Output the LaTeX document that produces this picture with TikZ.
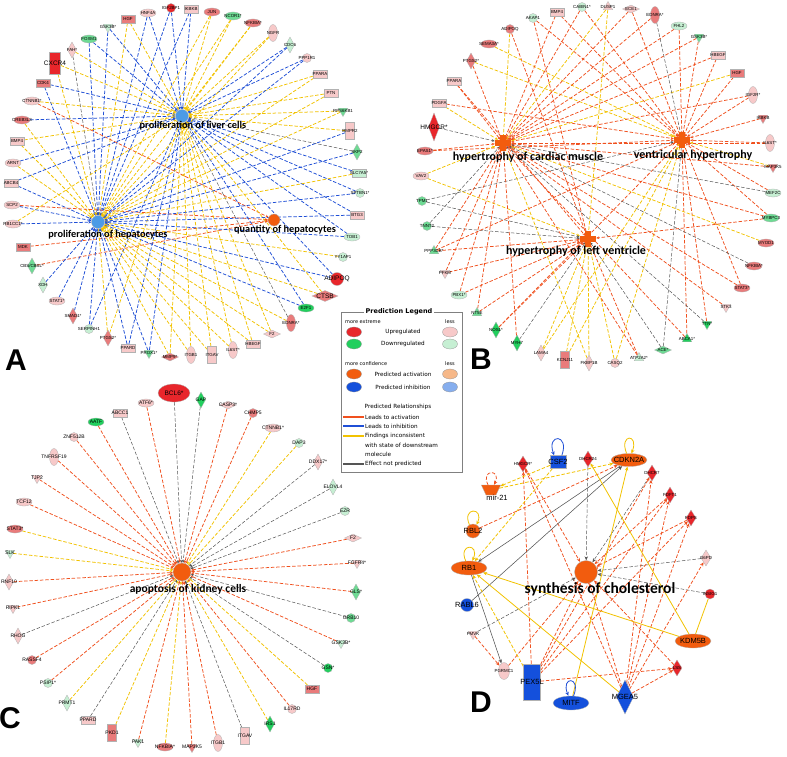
\documentclass[tikz,border=0pt]{standalone}
\usepackage{fontspec}
\newfontfamily\genefont{Liberation Sans}
\newfontfamily\titlefont{Carlito}
\newfontfamily\legfont{DejaVu Sans}
\usetikzlibrary{shapes.geometric,arrows.meta}
\pgfdeclarelayer{bg}
\pgfsetlayers{bg,main}

\definecolor{upS}{HTML}{E8262B}
\definecolor{upM}{HTML}{E97B7B}
\definecolor{upL}{HTML}{F7C9C9}
\definecolor{dnS}{HTML}{22CF5E}
\definecolor{dnM}{HTML}{6EDB94}
\definecolor{dnL}{HTML}{C6EFD3}
\definecolor{actS}{HTML}{F25C0E}
\definecolor{actL}{HTML}{F6B889}
\definecolor{inhS}{HTML}{1450DC}
\definecolor{inhM}{HTML}{4C9BE6}
\definecolor{inhL}{HTML}{86AEEE}
\definecolor{actE}{HTML}{F0501E}
\definecolor{inhE}{HTML}{1F4FD6}
\definecolor{incE}{HTML}{F2C200}
\definecolor{npE}{HTML}{555555}

\tikzset{
  gene/.style={draw=black!30, line width=0.3pt, inner sep=0pt},
  ell/.style={gene, ellipse, minimum width=16pt, minimum height=8pt},
  ellv/.style={gene, ellipse, minimum width=9pt, minimum height=17pt},
  circ/.style={gene, circle, minimum size=9pt},
  rct/.style={gene, rectangle, minimum width=14pt, minimum height=8pt},
  rctv/.style={gene, rectangle, minimum width=9pt, minimum height=17pt},
  dia/.style={gene, diamond, minimum width=9pt, minimum height=16pt},
  diah/.style={gene, diamond, minimum width=17pt, minimum height=8pt},
  triu/.style={gene, regular polygon, regular polygon sides=3, minimum size=11pt},
  trid/.style={triu, shape border rotate=180},
  lbl/.style={font=\genefont\fontsize{4.4}{5}\selectfont, inner sep=0pt},
  lblc/.style={font=\genefont\fontsize{5}{6}\selectfont, inner sep=0pt},
  lblbig/.style={font=\genefont\fontsize{6.5}{7}\selectfont, inner sep=0pt},
  dlbl/.style={font=\genefont\fontsize{7.5}{8}\selectfont, inner sep=0pt},
  bigA/.style={font=\titlefont\bfseries\fontsize{10.3}{12}\selectfont, inner sep=0pt},
  bigB/.style={font=\titlefont\bfseries\fontsize{12}{14}\selectfont, inner sep=0pt},
  bigC/.style={font=\titlefont\bfseries\fontsize{11.5}{13}\selectfont, inner sep=0pt},
  bigD/.style={font=\titlefont\bfseries\fontsize{15.5}{17}\selectfont, inner sep=0pt},
  panel/.style={font=\genefont\bfseries\fontsize{30}{30}\selectfont, inner sep=0pt},
  link/.style={line width=0.75pt, dash pattern=on 3.5pt off 1.8pt, -{Stealth[length=3pt,width=2.6pt]}},
  act/.style={link, actE},
  inh/.style={link, inhE},
  inc/.style={link, incE},
  np/.style={link, npE, line width=0.5pt},
  dact/.style={act, line width=0.75pt, -{Stealth[length=4pt,width=3.4pt]}},
  dnp/.style={np, -{Stealth[length=4pt,width=3.4pt]}},
  dincd/.style={inc, line width=0.8pt, -{Stealth[length=4pt,width=3.4pt]}},
  dincs/.style={dincd, solid},
  dnps/.style={dnp, solid, line width=0.55pt},
  legsw/.style={ellipse, draw=black!40, line width=0.3pt, minimum width=15pt, minimum height=10pt, inner sep=0pt},
  legtxt/.style={font=\legfont\fontsize{5.7}{6.5}\selectfont, inner sep=0pt},
  legsmall/.style={font=\legfont\fontsize{5}{6}\selectfont, inner sep=0pt},
}

\begin{document}
\begin{tikzpicture}[x=1pt, y=-1pt]
  \begin{pgfonlayer}{bg}
    \fill[white] (0,0) rectangle (787,757);
  \end{pgfonlayer}
  \useasboundingbox (0,0) rectangle (787,757);

  % ---------------- Panel A ----------------
  \node[gene, circle, minimum size=13pt, fill=inhM] (aliv) at (182,116) {};
  \node[gene, circle, minimum size=13pt, fill=inhM] (ahep) at (98,222) {};
  \node[gene, circle, minimum size=12pt, fill=actS] (aqty) at (274,220) {};

  \foreach \nm/\xx/\yy/\shp/\col/\txt/\lnk in {
    IGF/171/8/circ/upS/IGF2BP1/{liv/inh,hep/inh},
    IKB/191/9/rct/upL/IKBKB/{liv/inh,hep/inh},
    HNF/148/13/ell/upL/HNF4A/{liv/inh,hep/inh},
    HGF/128/19/rct/upM/HGF/{liv/inc,hep/inc},
    GSK/108/27/trid/dnL/GSK3B*/{liv/inh,hep/inh},
    FOX/89/39/ell/dnM/FOXM1/{liv/inh,hep/inh},
    FAH/72/50/dia/upL/FAH*/{liv/inc,hep/np},
    CDK/43/83/rct/upM/CDK4/{liv/inh,hep/inh},
    CTN/32/101/ell/upL/CTNNB1*/{liv/inc,qty/act},
    CRE/22/120/ell/upM/CREB3L3/{liv/inh,hep/inc},
    BMP/17/141/rct/upL/BMP4/{liv/inc,hep/inc},
    ARN/13/163/ell/upL/ARNT/{liv/inh,hep/inc},
    ABC/11/183/rct/upL/ABCB4/{liv/inh,hep/inh},
    SCP/12/205/ell/upL/SCP2/{qty/act,hep/inh},
    RBC/13/224/ell/upL/RB1CC1*/{hep/inh,liv/inc},
    MDK/23/247/rct/upM/MDK/{qty/act},
    CBS/32/266/dia/dnM/{CBS/CBSL*}/{qty/act},
    XDH/43/285/dia/dnL/XDH/{hep/inh},
    ST1/57/301/ell/upL/STAT1*/{hep/inh},
    SMA/73/316/dia/upM/SMAD1*/{hep/inh},
    SER/89/329/circ/dnL/SERPINH1/{hep/inh,liv/inh},
    PTG/108/338/dia/upM/PTGS2*/{hep/inc,liv/inc},
    PPD/128/348/rct/upL/PPARD/{hep/inh,liv/inh},
    PRO/149/353/trid/dnM/PROX1*/{hep/inh,liv/inh},
    MMP/170/357/diah/upM/MMP9*/{hep/inc,liv/inc},
    ITB/191/355/ellv/upL/ITGB1/{hep/inc,liv/inc},
    ITV/212/355/rctv/upL/ITGAV/{hep/inc,liv/inc},
    IL6/233/350/ellv/upL/IL6ST*/{hep/inc,liv/inc},
    HBE/253/344/rct/upL/HBEGF/{hep/inc,liv/inc},
    F2/272/334/diah/upL/F2/{hep/inc,liv/inc},
    EDN/291/323/ellv/upM/EDNRA*/{liv/np,hep/inc},
    E2F/306/308/ell/dnS/E2F1/{liv/inh,hep/inh},
    YYA/343/257/circ/dnL/YY1AP1/{hep/inc},
    TOB/352/237/ell/dnL/TOB1/{liv/inh,hep/inh},
    BTG/357/215/rct/upL/BTG3/{liv/inh,hep/inh},
    SPT/360/193/circ/dnL/SPTBN1*/{liv/inh,hep/inh},
    SLC/359/173/rct/dnL/SLC7A5*/{liv/inh,hep/inc},
    SKP/357/152/dia/dnM/SKP2/{liv/np,hep/inh},
    BPR/350/131/rctv/upL/BMPR2/{hep/inh,liv/inc},
    RPS/343/111/trid/dnM/RPS6KB1/{liv/inc,hep/inc},
    PTN/331/93/rct/upL/PTN/{liv/inc,hep/inc},
    PPA/320/74/rct/upL/PPARA/{liv/inc,hep/inc},
    PPP/307/58/circ/upL/PPP1R1/{liv/inh,hep/inh},
    CDC/290/45/dia/dnL/CDC6/{liv/inh,hep/inh},
    NGF/273/33/ellv/upL/NGFR/{liv/inc,hep/inc},
    NFK/253/23/ell/upM/NFKBIA*/{liv/inc,hep/inc},
    NCO/233/16/ell/dnM/NCOR1*/{liv/inc,hep/inc},
    JUN/212/12/ell/upM/JUN/{liv/inc,hep/inc}} {
    \node[\shp, fill=\col, label={[lbl]center:\txt}] (a\nm) at (\xx,\yy) {};
    \begin{pgfonlayer}{bg}
      \foreach \tg/\et in \lnk {\draw[\et] (a\nm) -- (a\tg);}
    \end{pgfonlayer}
  }
  \node[gene, rectangle, minimum width=11pt, minimum height=22pt, fill=upS, label={[lblbig]center:CXCR4}] (aCXC) at (55,63) {};
  \node[gene, circle, minimum size=13pt, fill=upS, label={[lblbig]center:ADIPOQ}] (aADI) at (337,279) {};
  \node[gene, diamond, minimum width=26pt, minimum height=11pt, fill=upM, label={[lblbig]center:CTSB}] (aCTS) at (325,296) {};
  \begin{pgfonlayer}{bg}
    \draw[inc] (aCXC) -- (aliv);
    \draw[inc] (aCXC) -- (ahep);
    \draw[inh] (aADI) -- (aliv);
    \draw[inh] (aADI) -- (ahep);
    \draw[inc] (aCTS) -- (ahep);
    \draw[inc] (aCTS) -- (aliv);
  \end{pgfonlayer}
  \node[bigA] (aliv-t) at (193,126) {proliferation of liver cells};
  \node[bigA] (ahep-t) at (108,235) {proliferation of hepatocytes};
  \node[bigA] (aqty-t) at (285,230) {quantity of hepatocytes};
  \node[panel] (pA) at (16,360) {A};

  % ---------------- Panel B ----------------
  \foreach \nm/\xx/\yy in {car/503/143, ven/682/140, lef/588/239} {
    \node[fill=actS, minimum width=16pt, minimum height=6pt, inner sep=0pt] (b\nm) at (\xx,\yy) {};
    \node[fill=actS, minimum width=6pt, minimum height=16pt, inner sep=0pt] (b\nm-v) at (\xx,\yy) {};
  }

  \foreach \nm/\xx/\yy/\shp/\col/\txt/\lnk in {
    AKA/533/18/circ/dnL/AKAP1/{ven/act,lef/act},
    ADI/510/29/circ/upM/ADIPOQ/{car/inc,lef/act},
    SEM/489/44/ell/upM/SEMA3A*/{ven/inc},
    PTG/471/61/dia/upM/PTGS2*/{ven/inc,car/act},
    PPA/454/81/rct/upL/PPARA/{car/act,lef/act},
    PDG/439/103/rct/upL/PDGFA/{car/inc,ven/act},
    EPA/425/151/ell/upM/EPAS1*/{car/act,ven/act},
    VAV/421/176/ell/upL/VAV2/{car/inc,lef/inc},
    TPM/422/201/circ/dnM/TPM1/{ven/np,lef/np},
    TNN/427/226/circ/dnM/TNNT2/{car/np,lef/np},
    PP3/434/251/triu/dnM/PPP3CB*/{car/act,lef/act,ven/act},
    PFK/445/273/trid/upL/PFKM/{car/act,lef/act},
    PBX/459/295/ell/dnL/PBX1*/{car/act,lef/act},
    NT5/477/313/triu/dnM/NT5E/{car/act,lef/act},
    NOS/496/330/dia/dnS/NOS1*/{lef/act,ven/act},
    MYH/517/343/dia/dnS/MYH7/{lef/np,car/act},
    LAM/541/353/dia/upL/LAMA4/{lef/inc,ven/inc},
    KCN/565/360/rctv/upM/KCNJ11/{lef/inc,ven/inc},
    FKB/589/363/dia/upL/FKBP1B/{lef/inc,car/inc},
    CAS/615/363/circ/upL/CASQ2/{lef/inc,ven/inc},
    ATP/639/358/triu/dnL/ATP2A2*/{lef/act,car/act},
    ACE/663/350/diah/dnM/ACE*/{lef/np,ven/np},
    ABC/687/339/triu/dnS/ABCA1*/{ven/act,car/act},
    TTN/707/324/trid/dnS/TTN*/{car/np,ven/act},
    STK/726/307/trid/upL/STK3/{car/act},
    ST3/742/288/ell/upM/STAT3*/{car/act,ven/act},
    NFK/754/266/ell/upM/NFKBIA*/{car/np},
    MYO/766/243/ell/upM/MYOD1/{car/inc},
    MYB/771/218/ell/dnM/MYBPC3/{lef/act,car/act,ven/act},
    MEF/773/193/ell/dnL/MEF2C/{car/np,ven/act},
    MAP/773/167/trid/upM/MAP3K5/{ven/inc,car/act},
    IL6/770/143/ellv/upL/IL6ST*/{ven/act,car/act},
    IKB/763/118/trid/upM/IKBKB/{ven/act},
    IGF/753/95/ellv/upL/IGF2R*/{car/act,ven/act},
    HGF/737/73/rct/upM/HGF/{car/inc,ven/act},
    HBE/718/55/rct/upL/HBEGF/{ven/act,car/act},
    GSK/699/37/trid/dnM/GSK3B*/{ven/act,car/act},
    FHL/679/26/ell/dnL/FHL2/{car/act,ven/act},
    EDN/655/15/ellv/upM/EDNRA*/{ven/np,car/act},
    ECE/631/9/diah/upL/ECE1/{car/act,ven/act},
    DUS/608/7/triu/upL/DUSP1/{car/inc,lef/inc},
    CAB/582/7/circ/dnL/CABIN1*/{car/act,ven/act},
    BMP/557/12/rct/upL/BMP4/{car/act,ven/act}} {
    \node[\shp, fill=\col, label={[lbl]center:\txt}] (b\nm) at (\xx,\yy) {};
    \begin{pgfonlayer}{bg}
      \foreach \tg/\et in \lnk {\draw[\et] (b\nm) -- (b\tg);}
    \end{pgfonlayer}
  }
  \node[gene, diamond, minimum width=11pt, minimum height=28pt, fill=upS, label={[lblbig]center:HMGCR*}] (bHMG) at (434,127) {};
  \begin{pgfonlayer}{bg}
    \draw[np] (bHMG) -- (bcar);
  \end{pgfonlayer}
  \node[bigB] (bcar-t) at (528,157) {hypertrophy of cardiac muscle};
  \node[bigB] (bven-t) at (693,155) {ventricular hypertrophy};
  \node[bigB] (blef-t) at (576,251) {hypertrophy of left ventricle};
  \node[panel] (pB) at (481,359) {B};

  % ---------------- Panel C ----------------
  \node[gene, circle, minimum size=18pt, fill=actS] (ckid) at (182,572) {};
  \foreach \nm/\xx/\yy/\shp/\col/\txt/\et in {
    AAT/96/422/ell/dnS/AATF/act,
    ABC/120/413/rct/upL/ABCC1/np,
    ATF/146/403/ell/upL/ATF6*/act,
    GAP/201/400/dia/dnS/GAP/np,
    CAS/228/405/diah/upL/CASP3*/act,
    CHM/253/413/circ/upM/CHMP5/act,
    CTN/273/428/ell/upL/CTNNB1*/inc,
    DAP/299/443/circ/dnL/DAP3/inc,
    DDX/318/462/dia/upL/DDX17*/np,
    ELO/333/487/dia/dnL/ELOVL4/np,
    EZR/345/511/circ/dnL/EZR/np,
    F2/353/538/diah/upL/F2/act,
    FGF/357/563/trid/upL/FGFR4*/act,
    GLS/356/592/dia/dnM/GLS*/act,
    GRB/351/618/circ/dnM/GRB10/np,
    GSK/341/643/trid/dnL/GSK3B*/act,
    GSN/328/668/circ/dnS/GSN*/np,
    HGF/312/689/rct/upM/HGF/inc,
    IL1/292/709/circ/upL/IL17RD/act,
    IRS/270/724/dia/dnS/IRS1/inc,
    ITV/245/736/rctv/upL/ITGAV/np,
    ITB/218/743/ellv/upL/ITGB1/act,
    MAP/192/747/trid/upM/MAP3K5/act,
    NFK/165/747/ell/upM/NFKBIA*/inc,
    PAK/138/742/trid/dnL/PAK1/act,
    PKD/112/733/rctv/upM/PKD1/inc,
    PPD/88/720/rct/upL/PPARD/np,
    PRM/67/703/dia/dnL/PRMT1/inc,
    PSI/48/683/circ/dnL/PSIP1*/act,
    RAS/32/660/circ/upM/RASSF4/act,
    RHO/18/636/dia/upL/RHOG/np,
    RIP/13/608/trid/upL/RIPK1/act,
    RNF/9/582/dia/upL/RNF10/act,
    SLK/10/553/trid/dnL/SLK/inc,
    ST3/15/529/ell/upM/STAT3*/inc,
    TCF/24/502/ell/upL/TCF12/act,
    TJP/37/478/trid/upL/TJP2/act,
    TNF/54/457/ellv/upL/TNFRSF19/act,
    ZNF/74/437/circ/upL/ZNF512B/act} {
    \node[\shp, fill=\col, label={[lblc]center:\txt}] (c\nm) at (\xx,\yy) {};
    \begin{pgfonlayer}{bg}
      \draw[\et] (c\nm) -- (ckid);
    \end{pgfonlayer}
  }
  \node[gene, ellipse, minimum width=32pt, minimum height=18pt, fill=upS, label={[lblbig]center:BCL6*}] (cBCL) at (174,393) {};
  \begin{pgfonlayer}{bg}
    \draw[np] (cBCL) -- (ckid);
  \end{pgfonlayer}
  \node[bigC] (ckid-t) at (188,589) {apoptosis of kidney cells};
  \node[panel] (pC) at (10,718) {C};

  % ---------------- Panel D ----------------
  \node[gene, circle, minimum size=23pt, fill=actS] (dsyn) at (586,572) {};
  \node[gene, diamond, minimum width=10pt, minimum height=16pt, fill=upS, label={[lbl]center:HMGCR*}] (dHMG) at (523,464) {};
  \node[gene, rectangle, minimum width=16pt, minimum height=13pt, fill=inhS, label={[dlbl]center:CSF2}] (dCSF) at (558,462) {};
  \node[gene, diamond, minimum width=10pt, minimum height=16pt, fill=upS, label={[lbl]center:DHCR24}] (dDHC24) at (588,459) {};
  \node[gene, ellipse, minimum width=36pt, minimum height=13pt, fill=actS, label={[dlbl]center:CDKN2A}] (dCDK) at (629,460) {};
  \node[gene, diamond, minimum width=10pt, minimum height=16pt, fill=upS, label={[lbl]center:DHCR7}] (dDHC7) at (652,473) {};
  \node[gene, diamond, minimum width=10pt, minimum height=16pt, fill=upS, label={[lbl]center:FDFT1}] (dFDF) at (670,495) {};
  \node[gene, diamond, minimum width=10pt, minimum height=16pt, fill=upS, label={[lbl]center:FDPS}] (dFDP) at (691,518) {};
  \node[gene, diamond, minimum width=10pt, minimum height=16pt, fill=upL, label={[lbl]center:G6PD}] (dG6P) at (706,558) {};
  \node[gene, circle, minimum size=10pt, fill=upS, label={[lbl]center:INSIG1}] (dINS) at (710,594) {};
  \node[gene, ellipse, minimum width=36pt, minimum height=14pt, fill=actS, label={[dlbl]center:KDM5B}] (dKDM) at (693,641) {};
  \node[gene, diamond, minimum width=10pt, minimum height=16pt, fill=upS, label={[lbl]center:LSS}] (dLSS) at (677,668) {};
  \node[gene, diamond, minimum width=17pt, minimum height=34pt, fill=inhS, label={[dlbl]center:MGEA5}] (dMGE) at (625,697) {};
  \node[gene, ellipse, minimum width=36pt, minimum height=14pt, fill=inhS, label={[dlbl]center:MITF}] (dMIT) at (571,703) {};
  \node[gene, rectangle, minimum width=17pt, minimum height=36pt, fill=inhS, label={[dlbl]center:PEX5L}] (dPEX) at (532,682) {};
  \node[gene, ellipse, minimum width=11pt, minimum height=17pt, fill=upL, label={[lbl]center:PGRMC1}] (dPGR) at (504,671) {};
  \node[trid, fill=upL, label={[lbl]center:PMVK}] (dPMV) at (473,634) {};
  \node[gene, circle, minimum size=13pt, fill=inhS, label={[dlbl]center:RABL6}] (dRAB) at (467,605) {};
  \node[gene, ellipse, minimum width=36pt, minimum height=14pt, fill=actS, label={[dlbl]center:RB1}] (dRB1) at (469,568) {};
  \node[gene, circle, minimum size=14pt, fill=actS, label={[dlbl]center:RBL2}] (dRBL) at (473,531) {};
  \node[gene, trapezium, shape border rotate=180, trapezium angle=65, inner sep=2pt, minimum width=18pt, minimum height=10pt, fill=actS] (dMIR) at (491,490) {};
  \node[dlbl] (dMIR-t) at (497,498) {mir-21};

  \begin{pgfonlayer}{bg}
    \draw[dact] (dHMG) -- (dsyn);
    \draw[dact] (dPEX) -- (dHMG);
    \draw[dact] (dMGE) -- (dHMG);
    \draw[dnp] (dDHC24) -- (dsyn);
    \draw[dnp] (dDHC7) -- (dsyn);
    \draw[dact] (dFDF) -- (dsyn);
    \draw[dact] (dFDP) -- (dsyn);
    \draw[dnp] (dG6P) -- (dsyn);
    \draw[dnp] (dINS) -- (dsyn);
    \draw[dact] (dLSS) -- (dsyn);
    \draw[dnp] (dPMV) -- (dsyn);
    \draw[dact] (dPGR) -- (dsyn);
    \draw[dact] (dPEX) -- (dsyn);
    \draw[dact] (dMGE) -- (dsyn);
    \foreach \tg in {dDHC7,dFDF,dFDP,dLSS} {\draw[dact] (dPEX) -- (\tg);}
    \foreach \tg in {dDHC7,dFDF,dFDP,dG6P,dLSS} {\draw[dact] (dMGE) -- (\tg);}
    \draw[dincd] (dCSF) -- (dMIR);
    \draw[dincd] (dCSF) -- (dRB1);
    \draw[dincd] (dMIR) -- (dCDK);
    \draw[dact] (dRBL) -- (dCDK);
    \draw[dnps] (dCDK) -- (dRB1);
    \draw[dnps] (dRAB) -- (dCDK);
    \draw[dincs] (dMIT) -- (dCDK);
    \draw[dincs] (dKDM) -- (dDHC24);
    \draw[dincs] (dKDM) -- (dRB1);
    \draw[dincs, -] (dINS) -- (dKDM);
    \draw[dincs] (dMGE) -- (dRB1);
    \draw[dincd] (dPEX) -- (dRB1);
    \draw[dnps] (dRB1) -- (dPGR);
    \draw[dact] (dPMV) -- (dPGR);
  \end{pgfonlayer}
  % self loops
  \draw[dincs] (dRB1.115) .. controls +(-8,-18) and +(8,-18) .. (dRB1.65);
  \draw[dincs] (dRBL.120) .. controls +(-8,-18) and +(8,-18) .. (dRBL.60);
  \draw[dincs] (dCDK.110) .. controls +(-8,-20) and +(8,-20) .. (dCDK.70);
  \draw[dact] (dMIR.120) .. controls +(-8,-16) and +(8,-16) .. (dMIR.60);
  \draw[inhE, line width=0.8pt, -{Stealth[length=4pt,width=3.4pt]}] (dCSF.60) .. controls +(8,-22) and +(-8,-22) .. (dCSF.120);
  \draw[inhE, line width=0.8pt, -{Stealth[length=4pt,width=3.4pt]}] (dMIT.70) .. controls +(8,-20) and +(-8,-20) .. (dMIT.110);
  \node[bigD] (dsyn-t) at (600,589) {synthesis of cholesterol};
  \node[panel] (pD) at (481,702) {D};

  % ---------------- Legend ----------------
  \node[draw=black!50, line width=0.6pt, minimum width=121pt, minimum height=160pt, inner sep=0pt] (leg) at (401.5,392) {};
  \node[font=\legfont\bfseries\fontsize{6.5}{7}\selectfont, fill=white, inner sep=1.5pt] (leg-t) at (399,312) {Prediction Legend};
  \node[legsmall, anchor=west] (leg-me) at (345,322) {more extreme};
  \node[legsmall] (leg-l1) at (450,322) {less};
  \node[legsmall, anchor=west] (leg-mc) at (345,364) {more confidence};
  \node[legsmall] (leg-l2) at (450,364) {less};
  \foreach \nm/\yy/\cs/\cl/\txt in {up/332/upS/upL/Upregulated, dn/344/dnS/dnL/Downregulated,
      ac/374/actS/actL/Predicted activation, ih/387/inhS/inhL/Predicted inhibition} {
    \node[legsw, fill=\cs] (l\nm-s) at (354,\yy) {};
    \node[legsw, fill=\cl] (l\nm-l) at (450,\yy) {};
    \node[legtxt] (l\nm-t) at (403,\yy) {\txt};
  }
  \node[legtxt] (leg-pr) at (398,407) {Predicted Relationships};
  \foreach \nm/\yy/\cc/\txt in {a/417/actE/Leads to activation, i/426/inhE/Leads to inhibition,
      f/436/incE/Findings inconsistent, n/464/npE/Effect not predicted} {
    \coordinate (r\nm-a) at (343,\yy);
    \coordinate (r\nm-b) at (364,\yy);
    \draw[\cc, line width=1.2pt] (r\nm-a) -- (r\nm-b);
    \node[legtxt, anchor=west] (r\nm-t) at (365,\yy) {\txt};
  }
  \node[legtxt, anchor=west] (rf-t2) at (365,445) {with state of downstream};
  \node[legtxt, anchor=west] (rf-t3) at (365,454) {molecule};
\end{tikzpicture}
\end{document}
